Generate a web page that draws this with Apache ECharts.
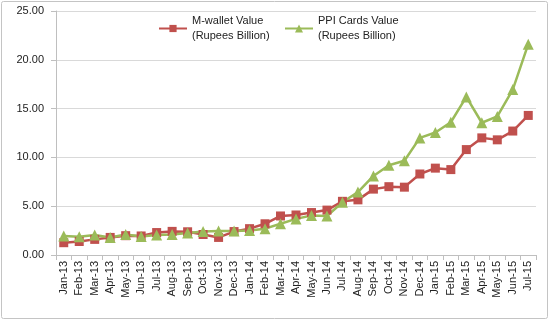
<!DOCTYPE html>
<html>
<head>
<meta charset="utf-8">
<script src="https://cdn.jsdelivr.net/npm/echarts@6/dist/echarts.min.js"></script>
<style>
html,body{margin:0;padding:0;background:#fff;}
#chart{width:550px;height:321px;}
</style>
</head>
<body>
<div id="chart"></div>
<script>
var categories = ["Jan-13","Feb-13","Mar-13","Apr-13","May-13","Jun-13","Jul-13","Aug-13","Sep-13","Oct-13","Nov-13","Dec-13",
  "Jan-14","Feb-14","Mar-14","Apr-14","May-14","Jun-14","Jul-14","Aug-14","Sep-14","Oct-14","Nov-14","Dec-14",
  "Jan-15","Feb-15","Mar-15","Apr-15","May-15","Jun-15","Jul-15"];
var mwallet = [1.26,1.38,1.6,1.8,1.98,1.95,2.3,2.42,2.38,2.1,1.8,2.4,
  2.7,3.2,4.0,4.1,4.35,4.6,5.5,5.65,6.75,7.0,6.95,8.3,
  8.9,8.75,10.8,12.0,11.8,12.7,14.3];
var ppi = [1.95,1.88,2.05,1.8,2.1,1.9,2.05,2.1,2.25,2.4,2.45,2.45,
  2.5,2.7,3.2,3.7,4.05,4.0,5.4,6.45,8.1,9.2,9.65,12.0,
  12.55,13.6,16.2,13.55,14.2,16.95,21.6];
var yMin = 0, yMax = 25, yStep = 5;
var nameM = "M-wallet Value\n(Rupees Billion)";
var nameP = "PPI Cards Value\n(Rupees Billion)";

var chart = echarts.init(document.getElementById('chart'), null, {renderer:'canvas'});
var font = "'Liberation Sans', Arial, sans-serif";
var legendText = {fontFamily: font, fontSize: 11, color: '#222', lineHeight: 15, padding: [15,0,0,0]};
chart.setOption({
  animation: false,
  textStyle: {fontFamily: font},
  graphic: [{
    type: 'rect', silent: true,
    shape: {x: 1.5, y: 1.5, width: 546, height: 317, r: 2},
    style: {fill: 'none', stroke: '#c4c4c4', lineWidth: 1}
  }],
  grid: {left: 56, right: 14, top: 11, bottom: 66},
  legend: [{
    data: [nameM], left: 158, top: 6, padding: 0, itemWidth: 28, itemHeight: 9, itemGap: 5,
    textStyle: legendText
  },{
    data: [nameP], left: 284, top: 6, padding: 0, itemWidth: 28, itemHeight: 10, itemGap: 5,
    textStyle: legendText
  }],
  xAxis: {
    type: 'category', data: categories, boundaryGap: true,
    axisLine: {lineStyle: {color: '#bfbfbf', width: 1}},
    axisTick: {show: true, interval: 0, length: 5, lineStyle: {color: '#bfbfbf'}},
    axisLabel: {interval: 0, rotate: 90, fontSize: 11, color: '#222', margin: 6, fontFamily: font}
  },
  yAxis: {
    type: 'value', min: yMin, max: yMax, interval: yStep,
    axisLine: {show: true, lineStyle: {color: '#bfbfbf'}},
    axisTick: {show: true, length: 5, lineStyle: {color: '#bfbfbf'}},
    splitLine: {lineStyle: {color: '#d9d9d9', width: 1}},
    axisLabel: {fontSize: 11, color: '#222', margin: 12, fontFamily: font,
      formatter: function(v){ return v.toFixed(2); }}
  },
  series: [{
    name: nameM, type: 'line', data: mwallet,
    symbol: 'rect', symbolSize: 9,
    lineStyle: {color: '#C0504D', width: 2.5},
    itemStyle: {color: '#C0504D'}
  },{
    name: nameP, type: 'line', data: ppi,
    symbol: 'triangle', symbolSize: 11,
    lineStyle: {color: '#9BBB59', width: 2.5},
    itemStyle: {color: '#9BBB59'}
  }]
});
</script>
</body>
</html>
